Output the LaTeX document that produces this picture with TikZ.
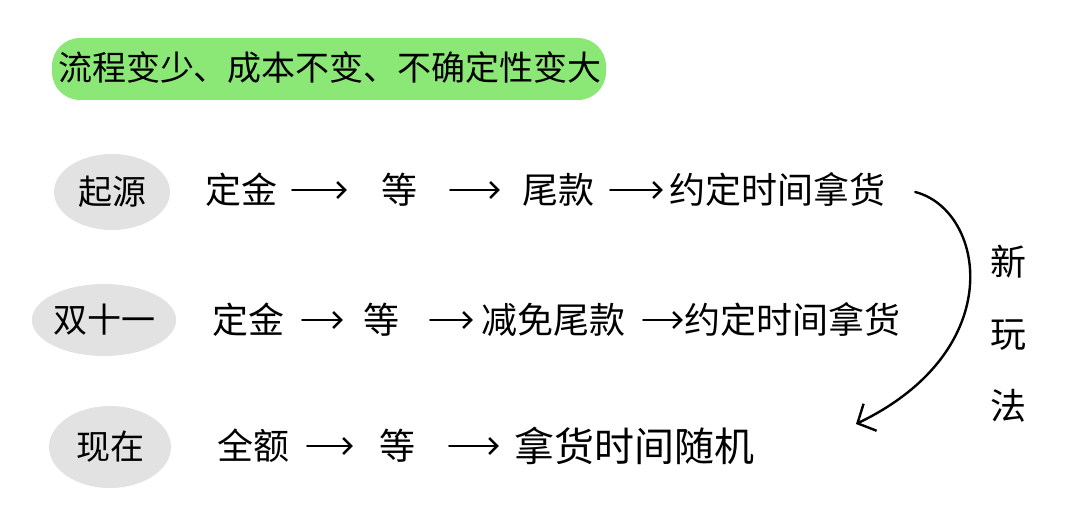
\documentclass[tikz,border=0pt]{standalone}
\usepackage{fontspec}
\newfontfamily\cjk{Noto Sans CJK SC}
\usetikzlibrary{arrows.meta,shapes.geometric}
\definecolor{hlgreen}{RGB}{140,232,118}
\definecolor{blobgray}{RGB}{226,226,226}
\tikzset{
  item/.style={font=\cjk\fontsize{36}{40}\selectfont, inner xsep=0pt, inner ysep=2pt},
  tag/.style={ellipse, fill=blobgray, font=\cjk\fontsize{34}{40}\selectfont, inner sep=0pt},
  flow/.style={line width=2.4pt, line cap=round, -{Straight Barb[length=8pt,width=16pt,line width=2.4pt]}},
  bigarrow/.style={line width=2.4pt, line cap=round, -{Straight Barb[length=14pt,width=30pt,line width=2.4pt]}}
}
\begin{document}
\begin{tikzpicture}[x=1pt,y=-1pt]
\useasboundingbox (0,0) rectangle (1080,529);
% title
\fill[hlgreen, rounded corners=28pt] (52,38) rectangle (606,100);
\node[font=\cjk\fontsize{34}{40}\selectfont] (title) at (330,68) {流程变少、成本不变、不确定性变大};
% row 1
\node[tag, minimum width=116pt, minimum height=76pt] (t1) at (112,192) {起源};
\node[item] (a1) at (241,190) {定金};
\node[item] (b1) at (399,190) {等};
\node[item] (c1) at (558,190) {尾款};
\node[item] (d1) at (777,190) {约定时间拿货};
\draw[flow, shorten <=15pt, shorten >=34pt] (a1) -- (b1);
\draw[flow, shorten <=33pt, shorten >=22pt] (b1) -- (c1);
\draw[flow, shorten <=16pt, shorten >=6pt] (c1) -- (d1);
% row 2
\node[tag, minimum width=126pt, minimum height=72pt] (t2) at (104,320) {双十一};
\node[item] (a2) at (248,320) {定金};
\node[item] (b2) at (381,320) {等};
\node[item] (c2) at (553,320) {减免尾款};
\node[item] (d2) at (792,320) {约定时间拿货};
\draw[flow, shorten <=18pt, shorten >=20pt] (a2) -- (b2);
\draw[flow, shorten <=31pt, shorten >=8pt] (b2) -- (c2);
\draw[flow, shorten <=18pt, shorten >=1pt] (c2) -- (d2);
% row 3
\node[tag, minimum width=122pt, minimum height=82pt] (t3) at (110,447) {现在};
\node[item] (a3) at (253,446) {全额};
\node[item] (b3) at (397,446) {等};
\node[item, font=\cjk\fontsize{40}{44}\selectfont] (c3) at (634,446) {拿货时间随机};
\draw[flow, shorten <=18pt, shorten >=26pt] (a3) -- (b3);
\draw[flow, shorten <=34pt, shorten >=15pt] (b3) -- (c3);
% new way arrow
\coordinate (tip) at (856,424);
\draw[bigarrow] ([xshift=30pt,yshift=-2pt]d1.east) .. controls (985,210) and (1010,350) .. (tip);
\node[font=\cjk\fontsize{36}{72}\selectfont, align=center] (lbl) at (1008,334) {新\\玩\\法};
\end{tikzpicture}
\end{document}
